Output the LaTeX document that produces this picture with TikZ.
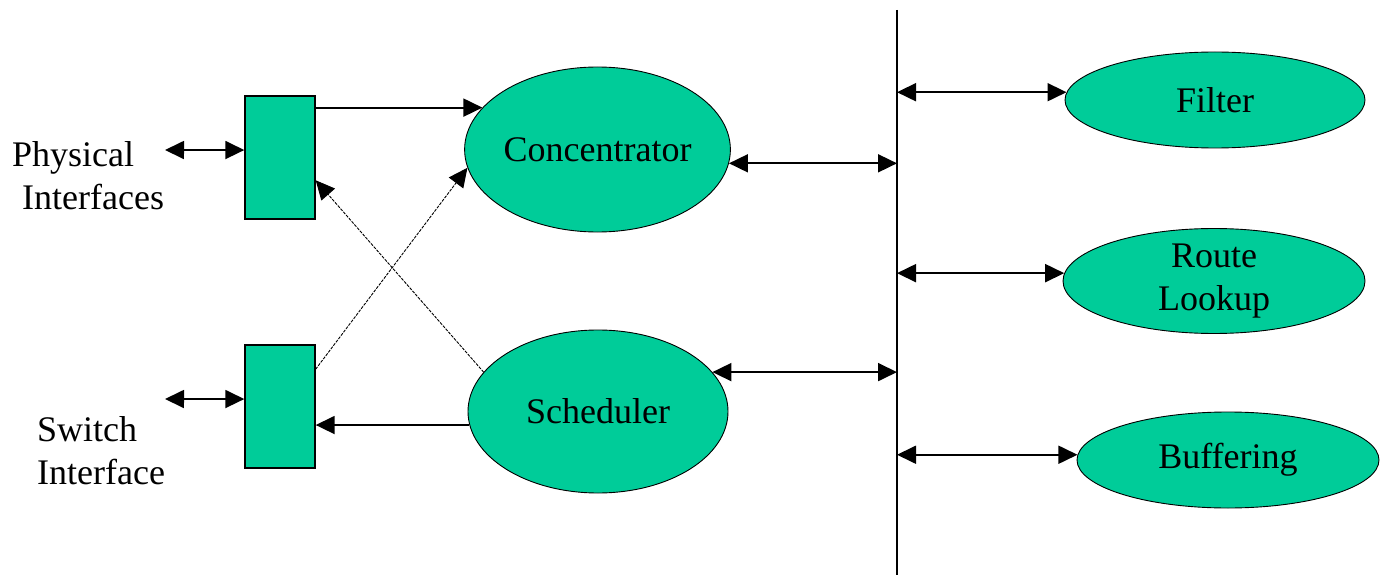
\documentclass[tikz,border=0pt]{standalone}
\usepackage{fontspec}
\setmainfont{Liberation Serif}
\usetikzlibrary{shapes.geometric,arrows.meta,calc}
\definecolor{boxgreen}{RGB}{0,204,153}
\begin{document}
\begin{tikzpicture}[x=1pt,y=-1pt,
  every node/.style={font=\fontsize{36}{43}\selectfont},
  blob/.style={ellipse, draw=black, line width=0.9pt, fill=boxgreen, inner sep=0pt, align=center},
  port/.style={rectangle, draw=black, line width=1.4pt, fill=boxgreen, minimum width=70pt, minimum height=123pt, inner sep=0pt},
  conn/.style={line width=1.8pt, -{Triangle[length=19pt,width=18pt]}},
  biconn/.style={line width=1.8pt, {Triangle[length=19pt,width=18pt]}-{Triangle[length=19pt,width=18pt]}},
  thinconn/.style={line width=0.9pt, dash pattern=on 3pt off 1.2pt, -{Triangle[length=19pt,width=18pt]}},
  lbl/.style={inner sep=0pt, align=left}
]
\path[use as bounding box] (0,0) rectangle (1382,575);

% ports
\node[port] (r1) at (280,157.5) {};
\node[port] (r2) at (280,406.5) {};

% processes
\node[blob, minimum width=261pt, minimum height=165pt] (conc) at (597.5,149.5) {Concentrator};
\node[blob, minimum width=260pt, minimum height=163pt] (sched) at (598,411.5) {Scheduler};
\node[blob, minimum width=300pt, minimum height=96pt] (filter) at (1215,100) {Filter};
\node[blob, minimum width=302pt, minimum height=94pt] (route) at (1214,281) {Route\\Lookup};
\node[blob, minimum width=302pt, minimum height=96pt] (buff) at (1228,460) {Buffering};

% labels
\node[lbl, anchor=west] (phys) at (12,176) {Physical\\\hspace*{10pt}Interfaces};
\node[lbl, anchor=west] (sw) at (37,451) {Switch\\Interface};

% bus line
\coordinate (vtop) at (897,10);
\coordinate (vbot) at (897,575);
\draw[line width=1.8pt] (vtop) -- (vbot);

% external links
\coordinate (physout) at (165,150);
\coordinate (swout) at (165,399);
\coordinate (r1in) at ($(r1.north west)!0.44!(r1.south west)$);
\coordinate (r2in) at ($(r2.north west)!0.44!(r2.south west)$);
\draw[biconn] (physout) -- (r1in);
\draw[biconn] (swout) -- (r2in);

% port <-> process
\draw[conn] (conc.160 -| r1.east) -- (conc.160);
\draw[conn] (sched.186) -- (sched.186 -| r2.east);
\coordinate (r2out) at ($(r2.north east)!0.2!(r2.south east)$);
\coordinate (r1back) at ($(r1.north east)!0.683!(r1.south east)$);
\draw[thinconn] (r2out) -- (conc.188);
\draw[thinconn] (sched.161) -- (r1back);

% process <-> bus
\draw[biconn] (conc.-6) -- (conc.-6 -| vtop);
\draw[biconn] (sched.19) -- (sched.19 -| vtop);
\draw[biconn] (filter.177 -| vtop) -- (filter.177);
\draw[biconn] (route.177 -| vtop) -- (route.177);
\draw[biconn] (buff.178 -| vtop) -- (buff.178);
\end{tikzpicture}
\end{document}
